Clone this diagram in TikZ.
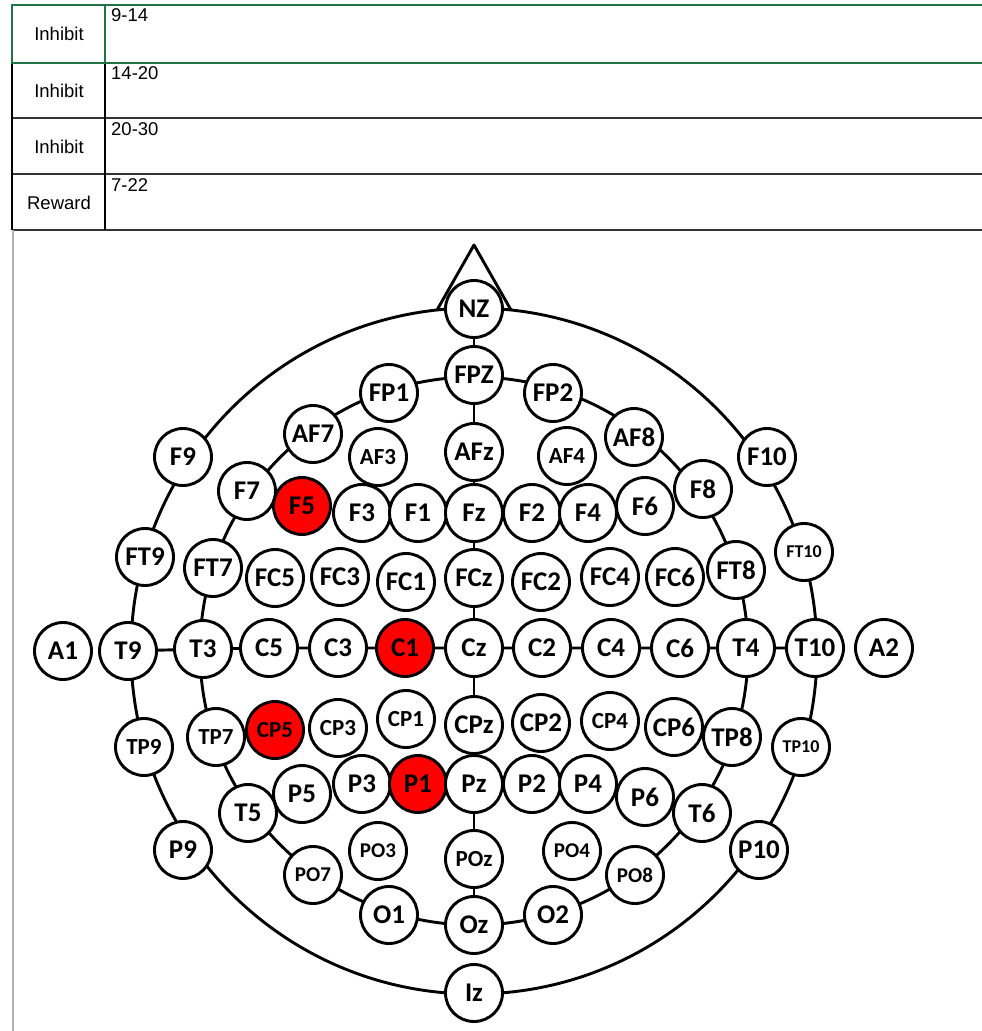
\documentclass[tikz,border=0pt]{standalone}
\usepackage{fontspec}
\newfontfamily\elfont{Carlito}
\newfontfamily\tabfont{Liberation Sans}
\definecolor{elred}{RGB}{255,0,0}
\definecolor{selgreen}{RGB}{33,115,70}
\tikzset{
  elec/.style={circle, draw, line width=2.9pt, fill=white, minimum size=57pt,
    inner sep=0pt, font=\elfont\bfseries\fontsize{27}{27}\selectfont},
  hot/.style={elec, fill=elred},
  midtxt/.style={font=\elfont\bfseries\fontsize{23}{23}\selectfont},
  smltxt/.style={font=\elfont\bfseries\fontsize{21}{21}\selectfont},
  tnytxt/.style={font=\elfont\bfseries\fontsize{18}{18}\selectfont},
  wire/.style={line width=2.9pt, line join=round},
  cell/.style={font=\tabfont\fontsize{18.5}{18.5}\selectfont, inner sep=0pt},
  bandtxt/.style={cell, anchor=north west},
  rowline/.style={line width=2pt, black!80},
}

\begin{document}
\begin{tikzpicture}[x=1pt, y=-1pt]
    \useasboundingbox (0,0) rectangle (982,1031);
    \fill[white] (0,0) rectangle (982,1031);

    \draw[rowline] (12,63) -- (984,63);
    \draw[rowline] (12,118) -- (984,118);
    \draw[rowline] (12,174) -- (984,174);
    \draw[rowline] (12,230) -- (984,230);
    \draw[line width=1.2pt] (12,63) -- (12,230);
    \draw[line width=1.2pt] (105,63) -- (105,230);
    \draw[black!30, line width=2pt] (13,230) -- (13,1031);
    \draw[selgreen, line width=2.5pt] (12,5) rectangle (986,63);
    \draw[selgreen, line width=2.5pt] (105,5) -- (105,63);

    \node[cell] (lab1) at (59,34) {Inhibit};
    \node[cell] (lab2) at (59,91) {Inhibit};
    \node[cell] (lab3) at (59,147) {Inhibit};
    \node[cell] (lab4) at (59,203) {Reward};
    \node[bandtxt] (band1) at (111,8) {9-14};
    \node[bandtxt] (band2) at (111,66) {14-20};
    \node[bandtxt] (band3) at (111,122) {20-30};
    \node[bandtxt] (band4) at (111,178) {7-22};

    \coordinate (head) at (474,651);
    \coordinate (noseL) at (437,310);
    \coordinate (noseT) at (474,245);
    \coordinate (noseR) at (511,310);
    \draw[wire] (head) circle[radius=343pt];
    \draw[wire] (head) circle[radius=274pt];
    \draw[wire] (noseL) -- (noseT) -- (noseR);

    \node[elec] (NZ) at (474,309) {NZ};
    \node[elec] (FPZ) at (474,375) {FPZ};
    \node[elec] (FP1) at (389,393) {FP1};
    \node[elec] (FP2) at (553,393) {FP2};
    \node[elec] (AF7) at (313,434) {AF7};
    \node[elec] (AF8) at (634,437) {AF8};
    \node[elec,midtxt] (AF3) at (378,457) {AF3};
    \node[elec] (AFz) at (474,452) {AFz};
    \node[elec,midtxt] (AF4) at (567,456) {AF4};

    \node[elec] (F9) at (183,457) {F9};
    \node[elec] (F10) at (767,457) {F10};
    \node[elec] (F7) at (247,491) {F7};
    \node[hot] (F5) at (302,506) {F5};
    \node[elec] (F3) at (362,513) {F3};
    \node[elec] (F1) at (418,513) {F1};
    \node[elec] (Fz) at (474,513) {Fz};
    \node[elec] (F2) at (532,513) {F2};
    \node[elec] (F4) at (588,513) {F4};
    \node[elec] (F6) at (645,506) {F6};
    \node[elec] (F8) at (703,489) {F8};

    \node[elec] (FT9) at (145,557) {FT9};
    \node[elec] (FT7) at (213,568) {FT7};
    \node[elec] (FC5) at (275,578) {FC5};
    \node[elec] (FC3) at (340,577) {FC3};
    \node[elec] (FC1) at (406,582) {FC1};
    \node[elec] (FCz) at (474,578) {FCz};
    \node[elec] (FC2) at (541,582) {FC2};
    \node[elec] (FC4) at (610,577) {FC4};
    \node[elec] (FC6) at (675,577) {FC6};
    \node[elec] (FT8) at (736,570) {FT8};
    \node[elec,tnytxt] (FT10) at (804,552) {FT10};

    \node[elec] (A1) at (63,651) {A1};
    \node[elec] (T9) at (128,651) {T9};
    \node[elec] (T3) at (203,649) {T3};
    \node[elec] (C5) at (269,648) {C5};
    \node[elec] (C3) at (338,648) {C3};
    \node[hot] (C1) at (405,648) {C1};
    \node[elec] (Cz) at (474,648) {Cz};
    \node[elec] (C2) at (542,648) {C2};
    \node[elec] (C4) at (611,648) {C4};
    \node[elec] (C6) at (680,648) {C6};
    \node[elec] (T4) at (746,648) {T4};
    \node[elec] (T10) at (815,648) {T10};
    \node[elec] (A2) at (884,648) {A2};

    \node[elec,midtxt] (TP9) at (144,747) {TP9};
    \node[elec,midtxt] (TP7) at (216,737) {TP7};
    \node[hot,midtxt] (CP5) at (275,730) {CP5};
    \node[elec,midtxt] (CP3) at (338,728) {CP3};
    \node[elec,midtxt] (CP1) at (406,719) {CP1};
    \node[elec] (CPz) at (474,725) {CPz};
    \node[elec] (CP2) at (541,723) {CP2};
    \node[elec,midtxt] (CP4) at (610,721) {CP4};
    \node[elec] (CP6) at (674,727) {CP6};
    \node[elec] (TP8) at (732,737) {TP8};
    \node[elec,tnytxt] (TP10) at (801,747) {TP10};

    \node[elec] (T5) at (248,813) {T5};
    \node[elec] (P5) at (302,794) {P5};
    \node[elec] (P3) at (362,784) {P3};
    \node[hot] (P1) at (418,784) {P1};
    \node[elec] (Pz) at (474,784) {Pz};
    \node[elec] (P2) at (532,784) {P2};
    \node[elec] (P4) at (588,784) {P4};
    \node[elec] (P6) at (645,797) {P6};
    \node[elec] (T6) at (702,813) {T6};
    \node[elec] (P9) at (183,850) {P9};
    \node[elec] (P10) at (759,850) {P10};

    \node[elec,smltxt] (PO7) at (313,875) {PO7};
    \node[elec,smltxt] (PO3) at (378,851) {PO3};
    \node[elec,midtxt] (POz) at (474,859) {POz};
    \node[elec,smltxt] (PO4) at (572,851) {PO4};
    \node[elec,smltxt] (PO8) at (635,875) {PO8};
    \node[elec] (O1) at (389,915) {O1};
    \node[elec] (Oz) at (474,925) {Oz};
    \node[elec] (O2) at (553,915) {O2};
    \node[elec] (Iz) at (474,993) {Iz};

    \draw[wire] (NZ) -- (FPZ) -- (AFz) -- (Fz) -- (FCz) -- (Cz) -- (CPz) --
    (Pz) -- (POz) -- (Oz);
    \draw[wire] (T9) -- (T3) -- (C5) -- (C3) -- (C1) -- (Cz) -- (C2) --
    (C4) -- (C6) -- (T4) -- (T10);
  \end{tikzpicture}
\end{document}
